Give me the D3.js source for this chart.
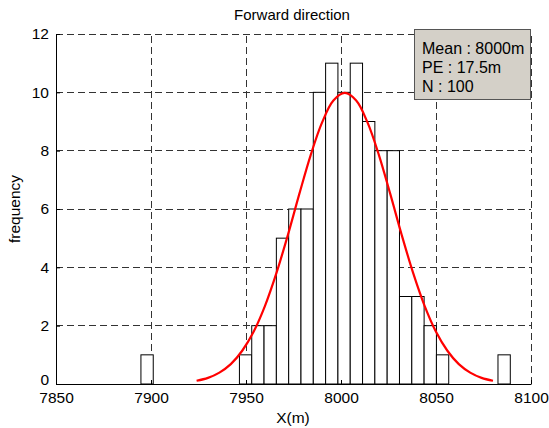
<!DOCTYPE html>
<html>
<head>
<meta charset="utf-8">
<script src="https://cdn.jsdelivr.net/npm/d3@7"></script>
<style>
  html, body { margin: 0; padding: 0; background: #fff; }
  svg { display: block; }
  text { font-family: "Liberation Sans", Arial, sans-serif; fill: #000; }
</style>
</head>
<body>
<svg id="chart" width="549" height="428"></svg>
<script>
// ---- data ----
const binEdges = [7894.70, 7901.18, 7907.66, 7914.14, 7920.62, 7927.10, 7933.58, 7940.06,
  7946.54, 7953.02, 7959.50, 7965.98, 7972.46, 7978.94, 7985.42, 7991.90, 7998.38,
  8004.86, 8011.34, 8017.82, 8024.30, 8030.78, 8037.26, 8043.74, 8050.22, 8056.70,
  8063.18, 8069.66, 8076.14, 8082.62, 8089.10];
const binCounts = [1, 0, 0, 0, 0, 0, 0, 0, 1, 2, 2, 5, 6, 6, 10, 11, 10, 11, 9, 8, 8, 3, 3, 2, 1, 0, 0, 0, 0, 1];
const curveX = [7924, 7930, 7936, 7942, 7948, 7954, 7960, 7966, 7972, 7978, 7984, 7990, 7996, 8002,
  8008, 8014, 8020, 8026, 8032, 8038, 8044, 8050, 8056, 8062, 8068, 8074, 8080];
const curveY = [0.11, 0.21, 0.39, 0.68, 1.14, 1.79, 2.68, 3.80, 5.10, 6.50, 7.84, 8.96, 9.72, 9.98,
  9.72, 8.96, 7.84, 6.50, 5.10, 3.80, 2.68, 1.79, 1.14, 0.68, 0.39, 0.21, 0.11];
const xTicks = [7850, 7900, 7950, 8000, 8050, 8100];
const yTicks = [0, 2, 4, 6, 8, 10, 12];
const titleText = "Forward direction";
const xLabel = "X(m)";
const yLabel = "frequency";
const legendLines = ["Mean : 8000m", "PE : 17.5m", "N : 100"];

// ---- layout ----
const svg = d3.select("#chart");
const L = 56, R = 531, T = 34, B = 384;
const x = d3.scaleLinear().domain([7850, 8100]).range([L, R]);
const y = d3.scaleLinear().domain([0, 12]).range([B, T]);
const FONT = "'Liberation Sans', Arial, sans-serif";

// grid
const grid = svg.append("g").attr("stroke", "#333").attr("stroke-width", 1)
  .attr("stroke-dasharray", "7,4").attr("shape-rendering", "crispEdges");
xTicks.filter(d => d > 7850).forEach(d => {
  grid.append("line").attr("x1", x(d)).attr("x2", x(d)).attr("y1", B).attr("y2", T);
});
yTicks.filter(d => d > 0).forEach(d => {
  grid.append("line").attr("x1", L).attr("x2", R).attr("y1", y(d)).attr("y2", y(d));
});

// bars
const bins = binCounts.map((c, i) => ({x0: binEdges[i], x1: binEdges[i + 1], c}));
svg.append("g").selectAll("rect").data(bins).join("rect")
  .attr("x", d => x(d.x0))
  .attr("width", d => x(d.x1) - x(d.x0))
  .attr("y", d => y(d.c))
  .attr("height", d => y(0) - y(d.c))
  .attr("fill", "#fff").attr("stroke", "#000").attr("stroke-width", 1);

// curve
const line = d3.line().x((d, i) => x(curveX[i])).y(d => y(d)).curve(d3.curveCatmullRom);
svg.append("path").datum(curveY).attr("d", line)
  .attr("fill", "none").attr("stroke", "#ff0000").attr("stroke-width", 2.2);

// axes
const xAxis = d3.axisBottom(x).tickValues(xTicks).tickFormat(d3.format("d"))
  .tickSizeInner(-4).tickSizeOuter(0).tickPadding(8);
const yAxis = d3.axisLeft(y).tickValues(yTicks).tickFormat(d3.format("d"))
  .tickSizeInner(-4).tickSizeOuter(0).tickPadding(7);
const gx = svg.append("g").attr("transform", `translate(0,${B})`).call(xAxis);
const gy = svg.append("g").attr("transform", `translate(${L},0)`).call(yAxis);
[gx, gy].forEach(g => {
  g.selectAll("path").attr("stroke", "#000").attr("stroke-width", 1);
  g.selectAll("line").attr("stroke", "#000");
  g.selectAll("text").style("font-family", FONT).style("font-size", "15.5px").attr("fill", "#000");
});
gy.selectAll(".tick").filter(d => d === 0).select("text").attr("dy", "0.05em");

// labels
svg.append("text").attr("x", 292).attr("y", 20).attr("text-anchor", "middle")
  .style("font-size", "15px").text(titleText);
svg.append("text").attr("x", 293).attr("y", 423).attr("text-anchor", "middle")
  .style("font-size", "15.5px").text(xLabel);
svg.append("text").attr("transform", `translate(20,209) rotate(-90)`).attr("text-anchor", "middle")
  .style("font-size", "15.5px").text(yLabel);

// legend box
const lg = svg.append("g");
lg.append("rect").attr("x", 414.5).attr("y", 29.5).attr("width", 116).attr("height", 70)
  .attr("fill", "#d4d0c8").attr("stroke", "#555").attr("stroke-width", 1);
legendLines.forEach((t, i) => {
  lg.append("text").attr("x", 422).attr("y", 54 + i * 19).style("font-size", "16px").text(t);
});
</script>
</body>
</html>
